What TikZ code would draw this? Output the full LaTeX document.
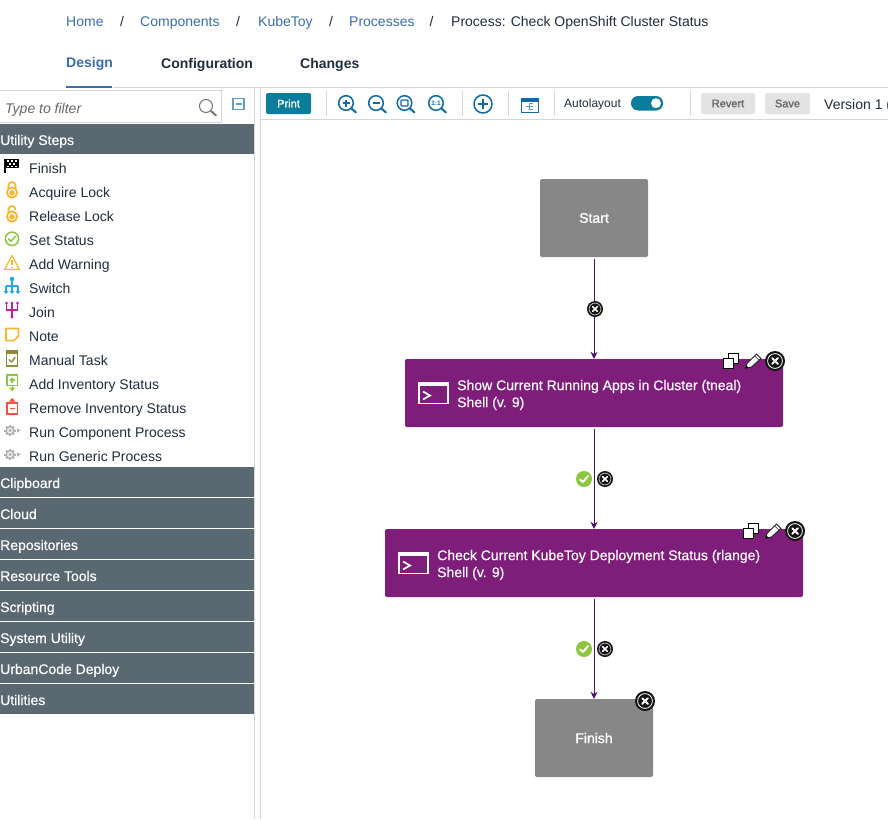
\documentclass[tikz,border=0pt]{standalone}
\usepackage{fontspec}
\setmainfont{Liberation Sans}
\newfontfamily\medfont[FakeBold=1.2]{Liberation Sans}
\newfontfamily\lightbold[FakeBold=0.4]{Liberation Sans}
\usetikzlibrary{arrows.meta,calc}
\definecolor{linkblue}{HTML}{3B6DB0}
\definecolor{inkdark}{HTML}{1F2D3D}
\definecolor{barslate}{HTML}{5A6872}
\definecolor{stepplum}{HTML}{7F1D7B}
\definecolor{wirepurple}{HTML}{47106B}
\definecolor{boxgrey}{HTML}{878787}
\definecolor{rulegrey}{HTML}{D6D6D6}
\definecolor{teal}{HTML}{0C7C9C}
\definecolor{iconblue}{HTML}{0F6AA6}
\definecolor{lockorange}{HTML}{F9B62D}
\definecolor{okgreen}{HTML}{8CC63F}
\definecolor{switchblue}{HTML}{29A9E6}
\definecolor{joinpink}{HTML}{C2209A}
\definecolor{olive}{HTML}{8E8A3A}
\definecolor{redicon}{HTML}{F0533F}
\definecolor{gearsilver}{HTML}{B0B0B0}
\tikzset{
  x=1pt,y=-1pt,
  oneline/.style={text height=13pt,text depth=3pt},
  crumb/.style={anchor=west,inner sep=0pt,oneline,font=\fontsize{14}{16}\selectfont,text=linkblue},
  crumbsep/.style={anchor=center,inner sep=0pt,oneline,font=\fontsize{14}{16}\selectfont,text=inkdark},
  tabbox/.style={anchor=west,inner sep=0pt,oneline,font=\bfseries\fontsize{14}{16}\selectfont,text=inkdark},
  baritem/.style={anchor=west,inner sep=0pt,oneline,font=\lightbold\fontsize{14}{16}\selectfont,text=white},
  listitem/.style={anchor=west,inner sep=0pt,oneline,font=\fontsize{14}{16}\selectfont,text=inkdark},
  barbox/.style={fill=barslate,minimum width=254pt,minimum height=30pt,inner sep=0pt,anchor=north west},
  greybox/.style={fill=boxgrey,rounded corners=2pt,inner sep=0pt,text=white,font=\medfont\fontsize{14}{16}\selectfont},
  stepbox/.style={fill=stepplum,rounded corners=2pt,inner sep=0pt,minimum height=68pt},
  steptext/.style={anchor=west,inner sep=0pt,text=white,align=left,font=\lightbold\fontsize{14}{17}\selectfont},
  wire/.style={draw=wirepurple,line width=0.9pt,-{Stealth[length=7pt,width=7pt]}},
  toolbtn/.style={rounded corners=2pt,inner sep=0pt,minimum height=21pt,font=\medfont\fontsize{11}{13}\selectfont},
  sepline/.style={draw=rulegrey,line width=1pt},
  tool/.style={draw=iconblue,line width=1.5pt},
  stickicon/.style={line width=1.4pt,line cap=round,line join=round}
}
% close badge: name, x, y, radius, ring colour
\newcommand{\closebadge}[5]{%
  \node[circle,fill=black!92,minimum size={2*#4 pt},inner sep=0pt] (#1) at (#2,#3) {};
  \draw[#5,line width=0.8pt] (#1) circle ({#4*0.74});
  \draw[white,line width={#4*0.2 pt},line cap=round]
    ($(#1)+(-#4*0.28,-#4*0.28)$) -- ($(#1)+(#4*0.28,#4*0.28)$)
    ($(#1)+(-#4*0.28,#4*0.28)$) -- ($(#1)+(#4*0.28,-#4*0.28)$);
}
\newcommand{\okbadge}[3]{%
  \node[circle,fill=okgreen,minimum size=16pt,inner sep=0pt] (#1) at (#2,#3) {};
  \draw[white,line width=2pt,line cap=round,line join=round]
    ($(#1)+(-4,0.5)$) -- ($(#1)+(-1,3)$) -- ($(#1)+(4,-3)$);
}
\newcommand{\terminalicon}[2]{%
  \begin{scope}[shift={(#1,#2)}]
    \draw[white,line width=1.6pt] (0,0) rectangle (29,21);
    \draw[white,line width=3pt] (0,2) -- (29,2);
    \draw[white,line width=1.7pt] (4,9) -- (11,13) -- (4,17);
  \end{scope}}
\newcommand{\copyicon}[2]{%
  \begin{scope}[shift={(#1,#2)}]
    \draw[black,fill=white,line width=0.9pt] (5.5,0.5) rectangle (15.5,10.5);
    \draw[black,fill=white,line width=0.9pt] (0.5,5.5) rectangle (10.5,15.5);
  \end{scope}}
\newcommand{\penicon}[2]{%
  \begin{scope}[shift={(#1,#2)}]
    \draw[black!85,fill=white,line width=1pt,line join=round]
      (0,15.5) -- (1.5,10.5) -- (11,1) -- (15.5,5.5) -- (6,14) -- cycle;
    \fill[black] (0,15.5) -- (0.8,12.5) -- (3,14.7) -- cycle;
    \draw[black!70,line width=0.6pt] (9.2,2.8) -- (13.6,7.2);
  \end{scope}}
\newcommand{\lockicon}[3]{%
  \begin{scope}[shift={(#1,#2)}]
    \draw[lockorange,line width=1.7pt] (-3.5,-3) -- (-3.5,-7) arc[start angle=180,end angle=360,radius=3.5] -- (3.5,#3);
    \draw[lockorange,line width=1.8pt,fill=white] (0,0) circle (5.1);
    \fill[lockorange] (0,0.3) circle (2.7);
  \end{scope}}
\newcommand{\gearicon}[2]{%
  \begin{scope}[shift={(#1,#2)}]
    \foreach \a in {0,45,...,315} {\draw[gearsilver,line width=2pt] (0,0) -- (\a:5.6);}
    \fill[gearsilver] (0,0) circle (4.7);
    \fill[white!80!gearsilver] (0,0) circle (3);
    \fill[gearsilver] (0,0) circle (1.7);
    \fill[gearsilver] (7,-2.3) -- (10.5,0) -- (7,2.3) -- cycle;
  \end{scope}}
\newcommand{\lens}[2]{%
  \draw[tool] (#1,#2) circle (7.3);
  \draw[iconblue,line width=2pt,line cap=round] (#1+5.5,#2+5.5) -- (#1+10,#2+9.5);}
\begin{document}
\begin{tikzpicture}
\useasboundingbox (0,0) rectangle (888,819);
\clip (0,0) rectangle (888,819);
\fill[white] (0,0) rectangle (888,819);

% ---------- breadcrumb
\node[crumb] (home) at (66,21) {Home};
\node[crumbsep] (s1) at (122,21) {/};
\node[crumb] (comp) at (140,21) {Components};
\node[crumbsep] (s2) at (238,21) {/};
\node[crumb] (kube) at (258,21) {KubeToy};
\node[crumbsep] (s3) at (331,21) {/};
\node[crumb] (proc) at (349,21) {Processes};
\node[crumbsep] (s4) at (431.5,21) {/};
\node[crumb,text=inkdark] (cur) at (451,21) {Process: Check OpenShift Cluster Status};

% ---------- tabs
\node[tabbox,text=linkblue] (design) at (66,62) {Design};
\node[tabbox] (config) at (161,63) {Configuration};
\node[tabbox] (changes) at (300,63) {Changes};
\draw[linkblue,line width=1.6pt] (66,87) -- (112,87);

% ---------- frame rules
\draw[sepline] (113,87.5) -- (888,87.5);
\draw[sepline] (260,119.5) -- (888,119.5);
\draw[sepline] (260.5,87) -- (260.5,819);
\draw[sepline] (254.5,87) -- (254.5,819);

% ---------- filter
\draw[rulegrey,line width=1pt] (-1,90.5) -- (221.5,90.5) -- (221.5,122) -- (-1,122);
\node[anchor=west,inner sep=0pt,oneline,text=black!60,font=\itshape\fontsize{14}{16}\selectfont] (filter) at (5,108) {Type to filter};
\draw[black!55,line width=1pt] (206,106) circle (6.5);
\draw[black!55,line width=2pt,line cap=round] (211,111) -- (216,115.5);
\draw[draw=iconblue!65,line width=1.5pt] (233,98.5) rectangle (244,109.5);
\draw[iconblue!65,line width=1.5pt] (235.5,104) -- (241.5,104);

% ---------- sidebar bars
\node[barbox] (utilbar) at (0,124) {};
\node[baritem] (util) at (0,140) {Utility Steps};
\foreach \nm/\y/\txt in {clip/467/Clipboard,cloud/498/Cloud,repo/529/Repositories,rest/560/Resource Tools,scr/591/Scripting,sys/622/System Utility,ucd/653/UrbanCode Deploy,utl/684/Utilities} {
  \node[barbox] (\nm bar) at (0,\y) {};
  \node[baritem] (\nm) at (0,\y+16) {\txt};
}

% ---------- list items
\foreach \nm/\y/\txt in {i1/168/Finish,i2/192/Acquire Lock,i3/216/Release Lock,i4/240/Set Status,i5/264/Add Warning,i6/288/Switch,i7/312/Join,i8/336/Note,i9/360/Manual Task,i10/384/Add Inventory Status,i11/408/Remove Inventory Status,i12/432/Run Component Process,i13/456/Run Generic Process} {
  \node[listitem] (\nm) at (29,\y) {\txt};
}

% finish flag
\draw[black,line width=1.3pt] (5,158.5) -- (5,173);
\fill[black] (5,158.5) rectangle (19,168);
\foreach \px/\py in {7/160,11/160,15/160,9/163,13/163,7/165.5,11/165.5,15/165.5} {\fill[white] (\px,\py) rectangle (\px+2,\py+1.8);}
% locks
\lockicon{12}{192.5}{-3}
\lockicon{12}{216.5}{-6.5}
% set status
\draw[okgreen,line width=1.5pt] (12,238.8) circle (6.7);
\draw[okgreen,stickicon] (8.5,238.8) -- (11,241.3) -- (15.5,236.3);
% warning
\draw[lockorange,stickicon,line width=1.2pt] (12,255.5) -- (19.5,269.5) -- (4.5,269.5) -- cycle;
\draw[lockorange,line width=1.2pt] (12,260) -- (12,265) (12,266.5) -- (12,268);
% switch
\fill[switchblue] (12,279) circle (2.3);
\draw[switchblue,line width=1.3pt] (12,280) -- (12,291);
\draw[switchblue,line width=1.3pt] (6,286) -- (18,286);
\draw[switchblue,line width=1.3pt] (6,286) -- (6,291);
\draw[switchblue,line width=1.3pt] (18,286) -- (18,291);
\fill[switchblue] (3.5,291) -- (8.5,291) -- (6,294) -- cycle;
\fill[switchblue] (9.5,291) -- (14.5,291) -- (12,294) -- cycle;
\fill[switchblue] (15.5,291) -- (20.5,291) -- (18,294) -- cycle;
% join
\draw[joinpink,line width=1.7pt] (6.5,304) -- (6.5,310) -- (17.5,310) -- (17.5,304) (12,304) -- (12,317);
\fill[joinpink] (6.5,303) circle (1.5) (12,303) circle (1.5) (17.5,303) circle (1.5) (12,317) circle (1.6);
% note
\draw[lockorange,line width=1.7pt,line join=round] (6,328.5) -- (18.5,328.5) -- (18.5,336) -- (14,340.5) -- (6,340.5) -- cycle;
% manual
\draw[olive,line width=1.2pt] (6.5,350.5) rectangle (17.5,366);
\fill[olive] (6,350) rectangle (18,353.5);
\draw[olive,stickicon] (9,359.5) -- (11.5,362) -- (15,357.5);
% add inventory
\draw[okgreen,line width=1.5pt] (7,375) rectangle (17.5,385.5);
\draw[okgreen,line width=1.6pt] (9.5,380) -- (15,380) (12.2,377.5) -- (12.2,383);
\draw[okgreen,line width=1.4pt] (12.2,386) -- (12.2,389);
\fill[okgreen] (8.8,387.5) -- (15.6,387.5) -- (12.2,391) -- cycle;
% remove inventory
\draw[redicon,line width=1.5pt] (7,403) rectangle (17.5,414);
\draw[redicon,line width=1.6pt] (9.5,408.5) -- (15,408.5);
\draw[redicon,line width=1.4pt] (12.2,400) -- (12.2,403);
\fill[redicon] (8.8,401.5) -- (15.6,401.5) -- (12.2,398) -- cycle;
% gears
\gearicon{10}{430.5}
\gearicon{10}{454.5}

% ---------- toolbar
\node[toolbtn,fill=teal,text=white,minimum width=45pt] (print) at (288.5,103.5) {Print};
\foreach \vx/\vn in {326.5/a,462.5/b,508.5/c,554.5/d,690.5/e} {\draw[sepline] (\vx,91) -- (\vx,116);}
\lens{346}{103}
\draw[iconblue,line width=1.4pt] (342.5,103) -- (349.5,103) (346,99.5) -- (346,106.5);
\lens{376}{103}
\draw[iconblue,line width=1.6pt] (372.5,103) -- (379.5,103);
\lens{404.5}{103}
\draw[iconblue,line width=1.2pt,rounded corners=1pt] (401,100) rectangle (408,106);
\lens{436}{103}
\node[inner sep=0pt,text=iconblue,font=\bfseries\fontsize{6.5}{7}\selectfont] (oneone) at (436,103) {1:1};
\draw[tool] (483,104) circle (9);
\draw[iconblue,line width=1.6pt] (478,104) -- (488,104) (483,99) -- (483,109);
\draw[iconblue,line width=1pt] (521,98) rectangle (538.5,112);
\fill[iconblue] (521,98) rectangle (538.5,101.5);
\draw[iconblue!70,line width=0.8pt] (525.5,106) -- (529,106) (529,103.5) -- (529,109) (529,103.5) -- (533,103.5) (529,106) -- (533,106) (529,109) -- (533,109);
\node[anchor=west,inner sep=0pt,text height=10pt,text depth=2pt,text=inkdark,font=\fontsize{12}{14}\selectfont] (auto) at (564,103.5) {Autolayout};
\fill[teal,rounded corners=7pt] (631,96) rectangle (663,110.5);
\fill[white] (656,103.2) circle (5);
\node[toolbtn,fill=black!11,text=black!60,minimum width=54pt] (revert) at (728,103.5) {Revert};
\node[toolbtn,fill=black!11,text=black!60,minimum width=45pt] (save) at (787.5,103.5) {Save};
\node[anchor=west,inner sep=0pt,oneline,text=inkdark,font=\fontsize{14}{16}\selectfont] (version) at (824,104) {Version 1 (};

% ---------- process boxes
\node[greybox,minimum width=108pt,minimum height=78pt] (start) at (594,218) {Start};
\node[stepbox,minimum width=378pt] (s1box) at (594,393) {};
\node[stepbox,minimum width=418pt] (s2box) at (594,563) {};
\node[greybox,minimum width=118pt,minimum height=78pt] (finish) at (594,738) {Finish};

\terminalicon{419}{382.5}
\terminalicon{399}{552.5}
\node[steptext] (s1txt) at (457,395) {Show Current Running Apps in Cluster (tneal)\\Shell (v. 9)};
\node[steptext] (s2txt) at (437,565) {Check Current KubeToy Deployment Status (rlange)\\Shell (v. 9)};

% ---------- connectors
\draw[wire] ([yshift=-2pt]start.south) -- (s1box.north);
\draw[wire] ([yshift=-2pt]s1box.south) -- (s2box.north);
\draw[wire] ([yshift=-2pt]s2box.south) -- (finish.north);

% ---------- badges
\closebadge{c1}{595}{309}{8}{white!70!black}
\okbadge{ok1}{584}{479}
\closebadge{c2}{605}{479}{8}{white!70!black}
\okbadge{ok2}{584}{649}
\closebadge{c3}{605}{649}{8}{white!70!black}

\copyicon{723}{353}
\penicon{745.5}{353}
\closebadge{c4}{775}{361}{10}{white}
\copyicon{743}{523}
\penicon{765.5}{523}
\closebadge{c5}{795}{531}{10}{white}
\closebadge{c6}{645}{701}{10}{white}
\end{tikzpicture}
\end{document}
